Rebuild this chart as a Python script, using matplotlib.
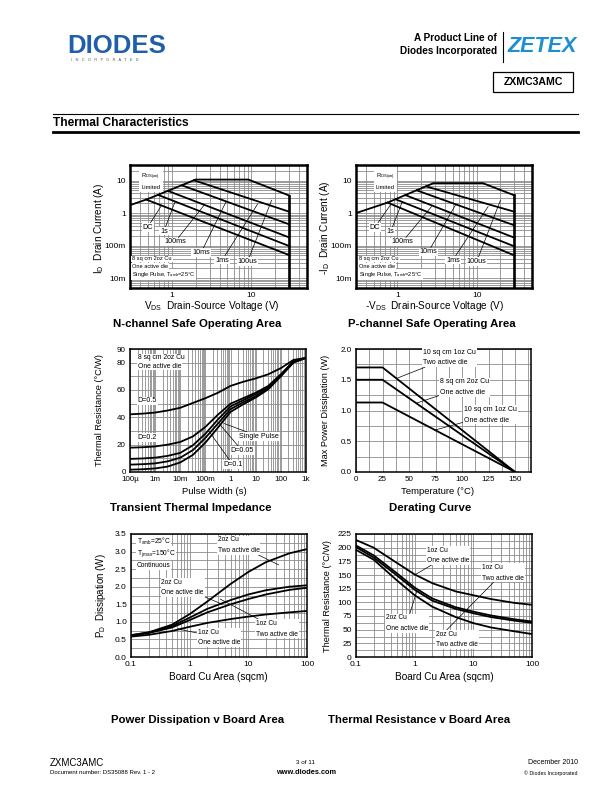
import matplotlib
matplotlib.use('Agg')
import matplotlib.pyplot as plt
from matplotlib import font_manager
from matplotlib.lines import Line2D
from matplotlib.patches import Rectangle

W, H = 612, 792
names = {f.name for f in font_manager.fontManager.ttflist}
SANS = 'Liberation Sans' if 'Liberation Sans' in names else 'DejaVu Sans'
NARROW = 'Liberation Sans Narrow' if 'Liberation Sans Narrow' in names else SANS
plt.rcParams['font.family'] = [SANS, 'DejaVu Sans']
plt.rcParams['mathtext.fontset'] = 'custom'
plt.rcParams['mathtext.rm'] = SANS
plt.rcParams['mathtext.it'] = SANS

# ---------------- data ----------------
# N-channel SOA
n_env_v = [0.3, 0.5, 2.0, 9.2, 30]
n_env_i = [1.75, 2.7, 10.7, 10.7, 3.45]
n_start_v = [1.9, 1.35, 0.9, 0.68, 0.48]
n_start_i = [10.2, 7.1, 4.8, 3.6, 2.6]
n_end_i = [1.1, 0.45, 0.178, 0.097, 0.051]
# P-channel SOA
p_env_v = [0.3, 0.75, 2.85, 12, 30]
p_env_i = [1.0, 2.1, 8.3, 8.3, 3.5]
p_start_v = [2.3, 1.75, 1.25, 0.95, 0.75]
p_start_i = [6.6, 5.0, 3.6, 2.65, 2.1]
p_end_i = [1.1, 0.42, 0.175, 0.095, 0.05]
bv_volts = 30

# Transient thermal impedance
tti_t = [1e-4, 3.16e-4, 1e-3, 3.16e-3, 1e-2, 3.16e-2, 0.1, 0.316, 1, 3.16, 10, 31.6, 100, 316, 1000]
tti_d05 = [42.2, 42.7, 43.5, 45, 47, 50.5, 54, 58, 63, 66, 68.5, 71.5, 76, 82, 83.5]
tti_d02 = [17.8, 18.1, 18.7, 20, 22, 26, 33, 42, 50, 54, 58, 63, 71.5, 81, 83.5]
tti_d01 = [9.6, 9.9, 10.5, 11.8, 14, 19.5, 28, 38.5, 48, 52.5, 57, 62.5, 71, 80.5, 83.5]
tti_d005 = [5.4, 5.7, 6.3, 7.8, 10.5, 16, 25, 35.5, 46, 51, 55.5, 61.5, 70.5, 80.5, 83.5]
tti_sp = [1.7, 2.0, 2.6, 4.0, 7.0, 12.5, 21.5, 32.5, 44, 49.5, 54.5, 60.5, 70, 80, 83.5]

# Derating
der_t = [0, 25, 150]
der_two = [1.7, 1.7, 0.0]
der_8sq = [1.5, 1.5, 0.0]
der_one = [1.13, 1.13, 0.0]

# Board area
area = [0.1, 0.2, 0.5, 1, 2, 5, 10, 20, 50, 100]
pd_2oz_two = [0.62, 0.70, 0.92, 1.22, 1.58, 2.08, 2.42, 2.70, 2.95, 3.07]
pd_2oz_one = [0.62, 0.70, 0.88, 1.12, 1.37, 1.62, 1.78, 1.90, 2.00, 2.04]
pd_1oz_two = [0.60, 0.68, 0.84, 1.05, 1.27, 1.50, 1.65, 1.78, 1.91, 1.97]
pd_1oz_one = [0.58, 0.63, 0.74, 0.86, 0.97, 1.08, 1.15, 1.21, 1.27, 1.31]
rth_1oz_one = [214, 200, 172, 151, 135, 120, 113, 106, 99, 95.5]
rth_1oz_two = [204, 186, 153, 127, 107, 91, 83, 76, 69, 65]
rth_2oz_one = [201, 182, 149, 123, 103, 88, 80, 73, 66.5, 62.5]
rth_2oz_two = [196, 178, 140, 113, 92, 73, 62, 54, 47, 42]

# ---------------- figure ----------------
fig = plt.figure(figsize=(6.12, 7.92), dpi=100)


def axbox(x0, y0, x1, y1):
    return fig.add_axes([x0 / W, 1 - y1 / H, (x1 - x0) / W, (y1 - y0) / H])


def ftext(x, y, s, **kw):
    kw.setdefault('va', 'center')
    fig.text(x / W, 1 - y / H, s, **kw)


def hline(x0, x1, y, lw, color='k'):
    fig.add_artist(Line2D([x0 / W, x1 / W], [1 - y / H, 1 - y / H], lw=lw, color=color))


GRID = '#8c8c8c'
CL = 1.3
WHITE = dict(facecolor='white', edgecolor='none', pad=0.6)
ARW = dict(arrowstyle='-', lw=0.5, color='k', shrinkA=0, shrinkB=0)

# header
ftext(67, 46, 'DIODES', fontsize=18.5, fontweight='bold', color='#1f5ea8', ha='left')
ftext(71, 60, 'I   N   C   O   R   P   O   R   A   T   E   D', fontsize=2.8, color='#555555', ha='left')
ftext(497, 38, 'A Product Line of', fontsize=7.2, fontweight='bold', family=[NARROW, SANS], ha='right')
ftext(497, 51, 'Diodes Incorporated', fontsize=7.2, fontweight='bold', family=[NARROW, SANS], ha='right')
fig.add_artist(Line2D([503 / W, 503 / W], [1 - 32 / H, 1 - 62 / H], lw=0.8, color='k'))
ftext(507, 46, 'ZETEX', fontsize=15.5, fontweight='bold', fontstyle='italic', family=[NARROW, SANS],
      color='#1b8fd2', ha='left')
fig.add_artist(Rectangle((493 / W, 1 - 92 / H), 80 / W, 20 / H, fill=False, lw=0.9, ec='k'))
ftext(533, 82, 'ZXMC3AMC', fontsize=7.6, fontweight='bold', ha='center')
hline(53, 578, 114, 0.8)
ftext(53, 123, 'Thermal Characteristics', fontsize=8.6, fontweight='bold', ha='left')
hline(53, 578, 131.5, 2.0)

# footer
ftext(50, 763, 'ZXMC3AMC', fontsize=7, ha='left')
ftext(50, 773, 'Document number: DS35088 Rev. 1 - 2', fontsize=4.3, ha='left')
ftext(306, 763, '3 of 11', fontsize=4.6, ha='center')
ftext(306, 773, 'www.diodes.com', fontsize=5.3, fontweight='bold', ha='center')
ftext(578, 763, 'December 2010', fontsize=5.0, ha='right')
ftext(578, 773, '\u00a9 Diodes Incorporated', fontsize=3.8, ha='right')


def soa(ax, env_v, env_i, sv, si, ei, rds_xy, lab_xy, lead_end, note_x):
    ax.set_xscale('log')
    ax.set_yscale('log')
    ax.set_xlim(0.3, 50)
    ax.set_ylim(0.005, 30)
    ax.grid(True, which='both', color=GRID, lw=0.6)
    ax.set_axisbelow(True)
    ax.plot(env_v, env_i, color='k', lw=CL, solid_joinstyle='miter')
    for v, i, e in zip(sv, si, ei):
        ax.plot([v, bv_volts], [i, e], color='k', lw=CL)
    ax.plot([bv_volts, bv_volts], [env_i[-1], 0.005], color='k', lw=1.9)
    ax.set_xticks([1, 10])
    ax.set_xticklabels(['1', '10'])
    ax.set_yticks([0.01, 0.1, 1, 10])
    ax.set_yticklabels(['10m', '100m', '1', '10'])
    ax.xaxis.set_minor_formatter(plt.NullFormatter())
    ax.yaxis.set_minor_formatter(plt.NullFormatter())
    ax.tick_params(which='both', length=0, labelsize=6.0, pad=3)
    for s in ax.spines.values():
        s.set_linewidth(1.8)
    ax.text(rds_xy[0], rds_xy[1], 'R$_{\\rm DS(on)}$\nLimited', fontsize=4.2, ha='center', va='center',
            linespacing=1.7, bbox=dict(facecolor='white', edgecolor='none', pad=1.5))
    labels = ['1ms', '10ms', '100ms', '1s', 'DC', '100us']
    for lab, (x, y), (lx, ly) in zip(labels, lab_xy, lead_end):
        ax.annotate(lab, xy=(lx, ly), xytext=(x, y), fontsize=5.2, ha='center', va='center',
                    bbox=WHITE, arrowprops=ARW)
    notes = ['8 sq cm 2oz Cu', 'One active die', 'Single Pulse, T$_{\\rm amb}$=25\u00b0C']
    for s, y in zip(notes, [0.039, 0.0225, 0.0128]):
        ax.text(note_x, y, s, fontsize=4.1, ha='left', va='center', bbox=WHITE)


# N-channel SOA
axn = axbox(130, 165, 307, 288)
soa(axn, n_env_v, n_env_i, n_start_v, n_start_i, n_end_i,
    rds_xy=(0.55, 9.5),
    lab_xy=[(4.3, 0.036), (2.35, 0.062), (1.1, 0.13), (0.8, 0.28), (0.5, 0.37), (9.0, 0.033)],
    lead_end=[(12, 1.9), (4.8, 2.2), (2.6, 1.85), (1.1, 2.2), (0.75, 1.75), (18, 2.5)],
    note_x=0.32)
ftext(99, 228, 'I$_{\\rm D}$  Drain Current (A)', fontsize=7.2, rotation=90, ha='center')
ftext(212, 306, 'V$_{\\rm DS}$  Drain-Source Voltage (V)', fontsize=7.2, ha='center')
ftext(197, 324, 'N-channel Safe Operating Area', fontsize=8.2, fontweight='bold', ha='center')

# P-channel SOA
axp = axbox(356, 165, 532, 288)
soa(axp, p_env_v, p_env_i, p_start_v, p_start_i, p_end_i,
    rds_xy=(0.7, 9.5),
    lab_xy=[(5.0, 0.036), (2.45, 0.064), (1.15, 0.13), (0.82, 0.27), (0.52, 0.37), (10.0, 0.032)],
    lead_end=[(14, 1.6), (5.5, 1.9), (2.7, 1.6), (1.15, 2.2), (0.82, 1.8), (20, 2.5)],
    note_x=0.33)
ftext(325, 228, '-I$_{\\rm D}$  Drain Current (A)', fontsize=7.2, rotation=90, ha='center')
ftext(434, 306, '-V$_{\\rm DS}$  Drain-Source Voltage (V)', fontsize=7.2, ha='center')
ftext(432, 324, 'P-channel Safe Operating Area', fontsize=8.2, fontweight='bold', ha='center')

# Transient thermal impedance
axt = axbox(130, 349, 306, 472)
axt.set_xscale('log')
axt.set_xlim(1e-4, 1e3)
axt.set_ylim(0, 90)
axt.grid(True, which='both', axis='x', color=GRID, lw=0.6)
axt.grid(True, which='major', axis='y', color=GRID, lw=0.6)
axt.set_yticks([0, 10, 20, 30, 40, 50, 60, 70, 80, 90], minor=False)
axt.set_yticklabels(['0', '', '20', '', '40', '', '60', '', '80', '90'])
axt.set_xticks([1e-4, 1e-3, 1e-2, 1e-1, 1, 10, 100, 1000])
axt.set_xticklabels(['100\u00b5', '1m', '10m', '100m', '1', '10', '100', '1k'])
axt.xaxis.set_minor_formatter(plt.NullFormatter())
axt.tick_params(which='both', length=0, labelsize=5.8, pad=3)
for s in axt.spines.values():
    s.set_linewidth(1.1)
axt.set_axisbelow(True)
for ys in (tti_d05, tti_d02, tti_d01, tti_d005, tti_sp):
    axt.plot(tti_t, ys, color='k', lw=CL)
axt.text(2e-4, 83.5, '8 sq cm 2oz Cu', fontsize=4.9, ha='left', va='center', bbox=WHITE)
axt.text(2e-4, 77.5, 'One active die', fontsize=4.9, ha='left', va='center', bbox=WHITE)
axt.text(2e-4, 52, 'D=0.5', fontsize=5.1, ha='left', va='center', bbox=WHITE)
axt.text(2e-4, 25.5, 'D=0.2', fontsize=5.1, ha='left', va='center', bbox=WHITE)
axt.annotate('Single Pulse', xy=(0.55, 35.5), xytext=(2.2, 26), fontsize=5.1, ha='left', va='center',
             bbox=WHITE, arrowprops=ARW)
axt.annotate('D=0.05', xy=(0.33, 36.0), xytext=(1.0, 15.5), fontsize=5.1, ha='left', va='center',
             bbox=WHITE, arrowprops=ARW)
axt.annotate('D=0.1', xy=(0.13, 30.5), xytext=(0.5, 5.5), fontsize=5.1, ha='left', va='center',
             bbox=WHITE, arrowprops=ARW)
ftext(100, 410, 'Thermal Resistance (\u00b0C/W)', fontsize=6.6, rotation=90, ha='center')
ftext(214, 492, 'Pulse Width (s)', fontsize=6.8, ha='center')
ftext(191, 508, 'Transient Thermal Impedance', fontsize=8.2, fontweight='bold', ha='center')

# Derating curve
axd = axbox(356, 349, 531, 472)
axd.set_xlim(0, 165)
axd.set_ylim(0, 2.0)
axd.set_xticks([0, 25, 50, 75, 100, 125, 150])
axd.set_xticks([12.5, 37.5, 62.5, 87.5, 112.5, 137.5, 162.5], minor=True)
axd.set_yticks([0, 0.5, 1.0, 1.5, 2.0])
axd.set_yticks([0.25, 0.75, 1.25, 1.75], minor=True)
axd.set_yticklabels(['0.0', '0.5', '1.0', '1.5', '2.0'])
axd.grid(True, which='both', color=GRID, lw=0.6)
axd.set_axisbelow(True)
axd.tick_params(which='both', length=0, labelsize=5.8, pad=3)
for s in axd.spines.values():
    s.set_linewidth(1.1)
for ys in (der_two, der_8sq, der_one):
    axd.plot(der_t, ys, color='k', lw=CL)
axd.annotate('10 sq cm 1oz Cu\nTwo active die', xy=(38, 1.52), xytext=(63, 1.86), fontsize=5.0,
             ha='left', va='center', linespacing=1.7, bbox=WHITE, arrowprops=ARW)
axd.annotate('8 sq cm 2oz Cu\nOne active die', xy=(57, 1.12), xytext=(79, 1.38), fontsize=5.0,
             ha='left', va='center', linespacing=1.7, bbox=WHITE, arrowprops=ARW)
axd.annotate('10 sq cm 1oz Cu\nOne active die', xy=(74, 0.68), xytext=(102, 0.93), fontsize=5.0,
             ha='left', va='center', linespacing=1.7, bbox=WHITE, arrowprops=ARW)
ftext(326, 410, 'Max Power Dissipation (W)', fontsize=6.6, rotation=90, ha='center')
ftext(438, 492, 'Temperature (\u00b0C)', fontsize=6.8, ha='center')
ftext(430, 508, 'Derating Curve', fontsize=8.2, fontweight='bold', ha='center')


def area_axes(ax):
    ax.set_xscale('log')
    ax.set_xlim(0.1, 100)
    ax.set_xticks([0.1, 1, 10, 100])
    ax.set_xticklabels(['0.1', '1', '10', '100'])
    ax.xaxis.set_minor_formatter(plt.NullFormatter())
    ax.grid(True, which='both', color=GRID, lw=0.6)
    ax.set_axisbelow(True)
    ax.tick_params(which='both', length=0, labelsize=6.0, pad=3)
    for s in ax.spines.values():
        s.set_linewidth(1.1)


# Power dissipation v board area
axpd = axbox(131, 534, 307, 657)
area_axes(axpd)
axpd.set_ylim(0, 3.5)
axpd.set_yticks([0, 0.5, 1.0, 1.5, 2.0, 2.5, 3.0, 3.5])
axpd.set_yticks([0.25, 0.75, 1.25, 1.75, 2.25, 2.75, 3.25], minor=True)
axpd.set_yticklabels(['0.0', '0.5', '1.0', '1.5', '2.0', '2.5', '3.0', '3.5'])
for ys in (pd_2oz_two, pd_2oz_one, pd_1oz_two, pd_1oz_one):
    axpd.plot(area, ys, color='k', lw=CL)
axpd.text(0.125, 3.3, 'T$_{\\rm amb}$=25\u00b0C', fontsize=4.8, ha='left', va='center', bbox=WHITE)
axpd.text(0.125, 2.96, 'T$_{\\rm j\\,max}$=150\u00b0C', fontsize=4.8, ha='left', va='center', bbox=WHITE)
axpd.text(0.125, 2.6, 'Continuous', fontsize=4.8, ha='left', va='center', bbox=WHITE)
axpd.annotate('2oz Cu\nTwo active die', xy=(33, 2.62), xytext=(3.0, 3.18), fontsize=4.8, ha='left',
              va='center', linespacing=1.7, bbox=WHITE, arrowprops=ARW)
axpd.annotate('2oz Cu\nOne active die', xy=(3.6, 1.5), xytext=(0.33, 1.98), fontsize=4.8, ha='left',
              va='center', linespacing=1.7, bbox=WHITE, arrowprops=ARW)
axpd.annotate('1oz Cu\nTwo active die', xy=(3.3, 1.65), xytext=(13.5, 0.8), fontsize=4.8, ha='left',
              va='center', linespacing=1.7, bbox=WHITE, arrowprops=ARW)
axpd.annotate('1oz Cu\nOne active die', xy=(0.62, 0.8), xytext=(1.4, 0.55), fontsize=4.8, ha='left',
              va='center', linespacing=1.7, bbox=WHITE, arrowprops=ARW)
ftext(101, 596, 'P$_{\\rm D}$  Dissipation (W)', fontsize=7.0, rotation=90, ha='center')
ftext(218, 677, 'Board Cu Area (sqcm)', fontsize=7.2, ha='center')
ftext(198, 720, 'Power Dissipation v Board Area', fontsize=8.2, fontweight='bold', ha='center')

# Thermal resistance v board area
axr = axbox(356, 534, 532, 657)
area_axes(axr)
axr.set_ylim(0, 225)
axr.set_yticks([0, 25, 50, 75, 100, 125, 150, 175, 200, 225])
axr.set_yticks([12.5, 37.5, 62.5, 87.5, 112.5, 137.5, 162.5, 187.5, 212.5], minor=True)
for ys in (rth_1oz_one, rth_1oz_two, rth_2oz_one, rth_2oz_two):
    axr.plot(area, ys, color='k', lw=CL)
axr.annotate('1oz Cu\nOne active die', xy=(1.0, 150), xytext=(1.6, 186), fontsize=4.8, ha='left',
             va='center', linespacing=1.7, bbox=WHITE, arrowprops=ARW)
axr.annotate('1oz Cu\nTwo active die', xy=(3.0, 42), xytext=(14, 154), fontsize=4.8, ha='left',
             va='center', linespacing=1.7, bbox=WHITE, arrowprops=ARW)
axr.annotate('2oz Cu\nOne active die', xy=(1.1, 122), xytext=(0.32, 62), fontsize=4.8, ha='left',
             va='center', linespacing=1.7, bbox=WHITE, arrowprops=ARW)
axr.text(2.3, 32, '2oz Cu\nTwo active die', fontsize=4.8, ha='left', va='center', linespacing=1.7,
         bbox=WHITE)
ftext(327, 596, 'Thermal Resistance (\u00b0C/W)', fontsize=6.6, rotation=90, ha='center')
ftext(444, 677, 'Board Cu Area (sqcm)', fontsize=7.2, ha='center')
ftext(419, 720, 'Thermal Resistance v Board Area', fontsize=8.2, fontweight='bold', ha='center')

fig.savefig('out.png', dpi=100)
